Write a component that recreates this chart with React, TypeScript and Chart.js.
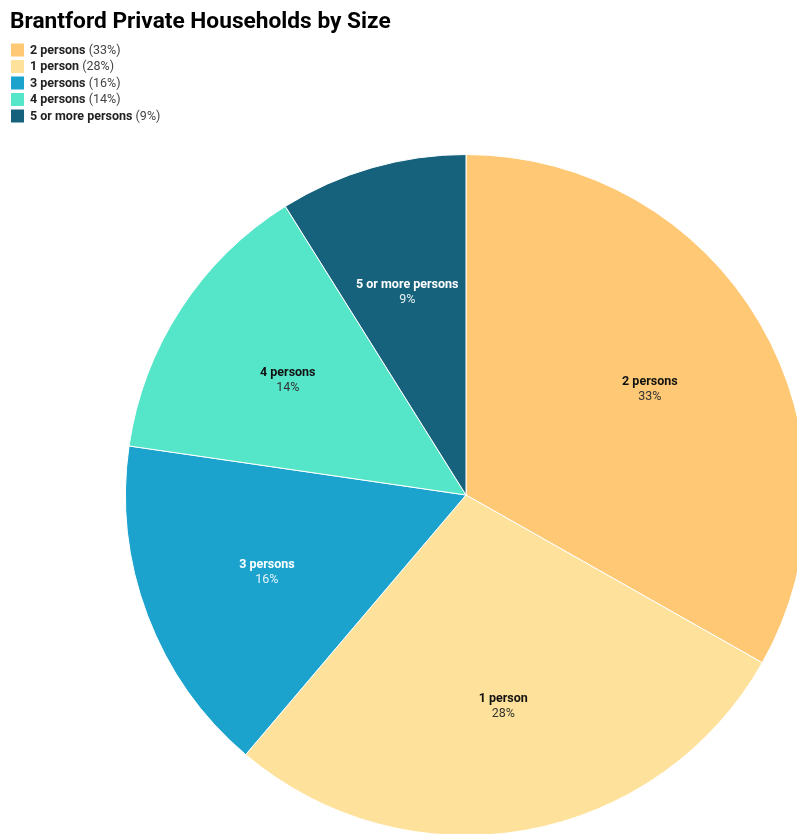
import React, { useEffect, useRef } from "react";
import { Chart, registerables } from "chart.js";

Chart.register(...registerables);

const TITLE = "Brantford Private Households by Size";
const categories = ["2 persons", "1 person", "3 persons", "4 persons", "5 or more persons"];
const values = [33.2, 28.0, 16.1, 13.8, 8.9];
const pctLabels = ["33%", "28%", "16%", "14%", "9%"];
const colors = ["#FFC875", "#FEE29B", "#1BA3CE", "#55E6C9", "#16627D"];
const labelColors = ["#111111", "#111111", "#ffffff", "#111111", "#ffffff"];
const pctColors = ["#333333", "#333333", "#e8f4f8", "#333333", "#e8f0f2"];

const FONT = "Roboto, 'Noto Sans', sans-serif";

const overlayPlugin = {
  id: "overlay",
  afterDatasetsDraw(chart: any) {
    const ctx = chart.ctx;
    const meta = chart.getDatasetMeta(0);
    ctx.save();
    ctx.textAlign = "center";
    ctx.textBaseline = "middle";
    meta.data.forEach((arc: any, i: number) => {
      const p = arc.getProps(["x", "y", "startAngle", "endAngle", "outerRadius"], true);
      const mid = (p.startAngle + p.endAngle) / 2;
      const r = p.outerRadius * 0.625;
      const x = p.x + Math.cos(mid) * r;
      const y = p.y + Math.sin(mid) * r;
      ctx.font = `bold 12.5px ${FONT}`;
      ctx.fillStyle = labelColors[i];
      ctx.fillText(categories[i], x, y - 5.5);
      ctx.font = `12.5px ${FONT}`;
      ctx.fillStyle = pctColors[i];
      ctx.fillText(pctLabels[i], x, y + 9.5);
    });
    ctx.restore();
  },
  afterDraw(chart: any) {
    const ctx = chart.ctx;
    ctx.save();
    ctx.textAlign = "left";
    ctx.textBaseline = "alphabetic";
    ctx.font = `bold 22.7px ${FONT}`;
    ctx.fillStyle = "#000000";
    ctx.fillText(TITLE, 10, 28);
    ctx.textBaseline = "middle";
    categories.forEach((c, i) => {
      const cy = 50 + i * 16.5;
      ctx.fillStyle = colors[i];
      ctx.fillRect(11, cy - 6.5, 13, 13);
      ctx.font = `bold 12.5px ${FONT}`;
      ctx.fillStyle = "#222222";
      ctx.fillText(c, 30, cy + 0.5);
      const w = ctx.measureText(c + " ").width;
      ctx.font = `12.5px ${FONT}`;
      ctx.fillStyle = "#444444";
      ctx.fillText(`(${pctLabels[i]})`, 30 + w, cy + 0.5);
    });
    ctx.restore();
  },
};

export default function App() {
  const ref = useRef<HTMLCanvasElement>(null);
  useEffect(() => {
    document.body.style.margin = "0";
    const chart = new Chart(ref.current!, {
      type: "pie",
      data: {
        labels: categories,
        datasets: [
          {
            data: values,
            backgroundColor: colors,
            borderColor: "#ffffff",
            borderWidth: 1,
          },
        ],
      },
      options: {
        animation: false,
        responsive: false,
        maintainAspectRatio: false,
        layout: { padding: { left: 125, right: 13, top: 154, bottom: 14 } },
        plugins: {
          legend: { display: false },
          title: { display: false },
          tooltip: { enabled: false },
        },
      },
      plugins: [overlayPlugin],
    });
    return () => chart.destroy();
  }, []);
  return (
    <div style={{ width: 797, height: 834, overflow: "hidden", position: "relative" }}>
      <canvas ref={ref} width={820} height={850} style={{ position: "absolute", left: 0, top: 0 }} />
    </div>
  );
}
